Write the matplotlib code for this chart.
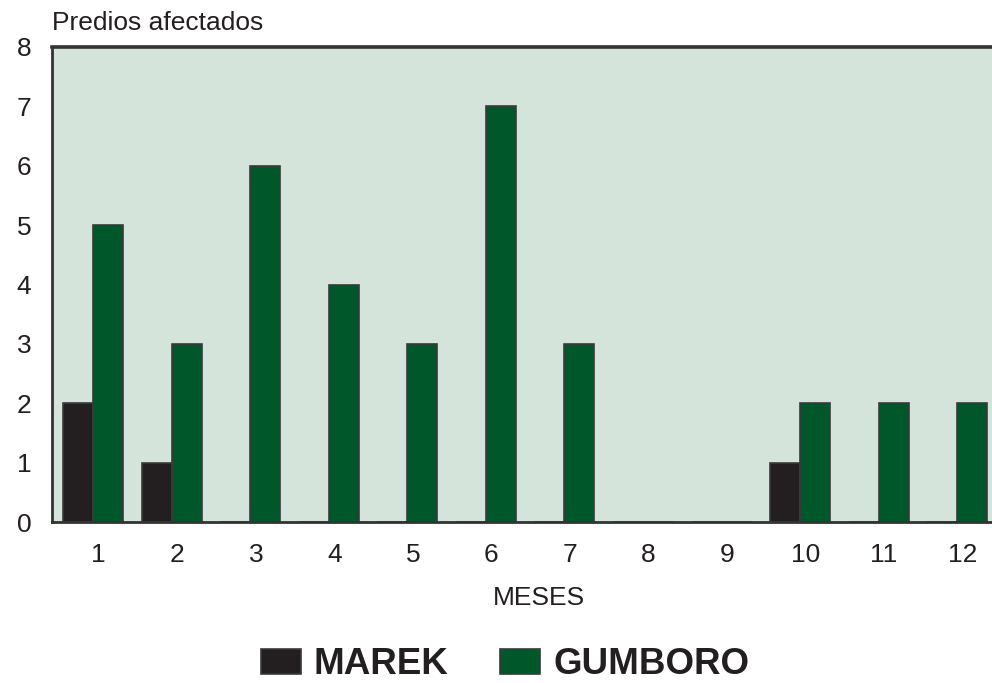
import numpy as np
import matplotlib.pyplot as plt

plt.rcParams['font.family'] = ['Liberation Sans', 'DejaVu Sans']

meses = [1, 2, 3, 4, 5, 6, 7, 8, 9, 10, 11, 12]
marek = [2, 1, 0, 0, 0, 0, 0, 0, 0, 1, 0, 0]
gumboro = [5, 3, 6, 4, 3, 7, 3, 0, 0, 2, 2, 2]

c_bg = '#d5e4da'
c_marek = '#231f20'
c_gumboro = '#00572a'
c_edge = '#3a3a3a'
c_text = '#231f20'

fig = plt.figure(figsize=(9.92, 6.83), dpi=100)
ax = fig.add_axes([52 / 992, 1 - 522 / 683, 1 - 52 / 992 + 0.01, (522 - 47) / 683])
ax.set_facecolor(c_bg)

x = np.array(meses, dtype=float)
w = 0.382
ax.bar(x - w / 2, marek, width=w, color=c_marek, edgecolor=c_edge, linewidth=1.2, label='MAREK')
ax.bar(x + w / 2, gumboro, width=w, color=c_gumboro, edgecolor=c_edge, linewidth=1.2, label='GUMBORO')

ax.set_xlim(0.475, 12.57)
ax.set_ylim(0, 8)
ax.set_yticks(range(0, 9))
ax.set_xticks(x + 0.07)
ax.set_xticklabels([str(m) for m in meses])
ax.tick_params(axis='both', length=0, labelsize=19, colors=c_text)
ax.tick_params(axis='y', pad=15)
ax.tick_params(axis='x', pad=15)

for s in ['left', 'top', 'bottom']:
    ax.spines[s].set_color('#333333')
    ax.spines[s].set_linewidth(2)
ax.spines['top'].set_linewidth(2.6)
ax.spines['right'].set_visible(False)

ax.set_xlabel('MESES', fontsize=19, color=c_text, labelpad=16)
ax.xaxis.set_label_coords(0.513, -0.135)
fig.text(52 / 992, 1 - 23 / 683, 'Predios afectados', fontsize=19, color=c_text,
         ha='left', va='center')

fig.legend(loc='center', bbox_to_anchor=(505 / 992, 1 - 665 / 683), ncol=2, frameon=False,
           prop={'weight': 'bold', 'size': 26.5}, handlelength=1.09, handleheight=0.65,
           handletextpad=0.35, columnspacing=1.4, labelcolor=c_text)

fig.savefig('out.png', dpi=100)
